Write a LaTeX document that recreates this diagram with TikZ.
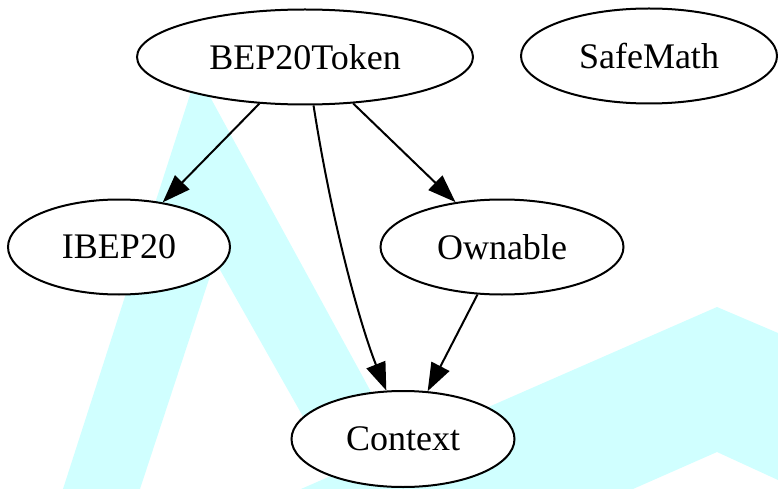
\documentclass[tikz,border=0pt]{standalone}
\usepackage{fontspec}
\setmainfont{Liberation Serif}
\usetikzlibrary{shapes.geometric,arrows.meta}
\definecolor{wmcyan}{RGB}{208,255,255}
\tikzset{
  cls/.style={ellipse, draw, line width=2pt, fill=white, inner sep=0pt,
    minimum height=95pt, font=\fontsize{36}{40}\selectfont},
  dep/.style={line width=2pt, -{Triangle[length=28pt,width=20pt]}}
}
\begin{document}
\begin{tikzpicture}[x=1pt,y=-1pt]
\useasboundingbox (0,0) rectangle (778,489);
% Watermark
\fill[wmcyan] (63,489) -- (197,73) -- (424,489) -- (344,489) -- (215,261) -- (140,489) -- cycle;
\fill[wmcyan] (301,489) -- (717,307) -- (778,333) -- (778,480) -- (717,452) -- (633,489) -- cycle;
% Contracts
\node[cls, minimum width=336pt] (bep) at (305,57) {BEP20Token};
\node[cls, minimum width=256pt] (safemath) at (649,56) {SafeMath};
\node[cls, minimum width=222pt] (ibep) at (119,247) {IBEP20};
\node[cls, minimum width=243pt] (ownable) at (502,247) {Ownable};
\node[cls, minimum width=223pt, minimum height=96pt] (ctx) at (403,439) {Context};
% Inheritance
\draw[dep] (bep) -- (ibep);
\draw[dep] (bep) -- (ownable);
\draw[dep] (bep.-80) .. controls (333,230) and (362,330) .. (ctx.109);
\draw[dep] (ownable) -- (ctx);
\end{tikzpicture}
\end{document}
